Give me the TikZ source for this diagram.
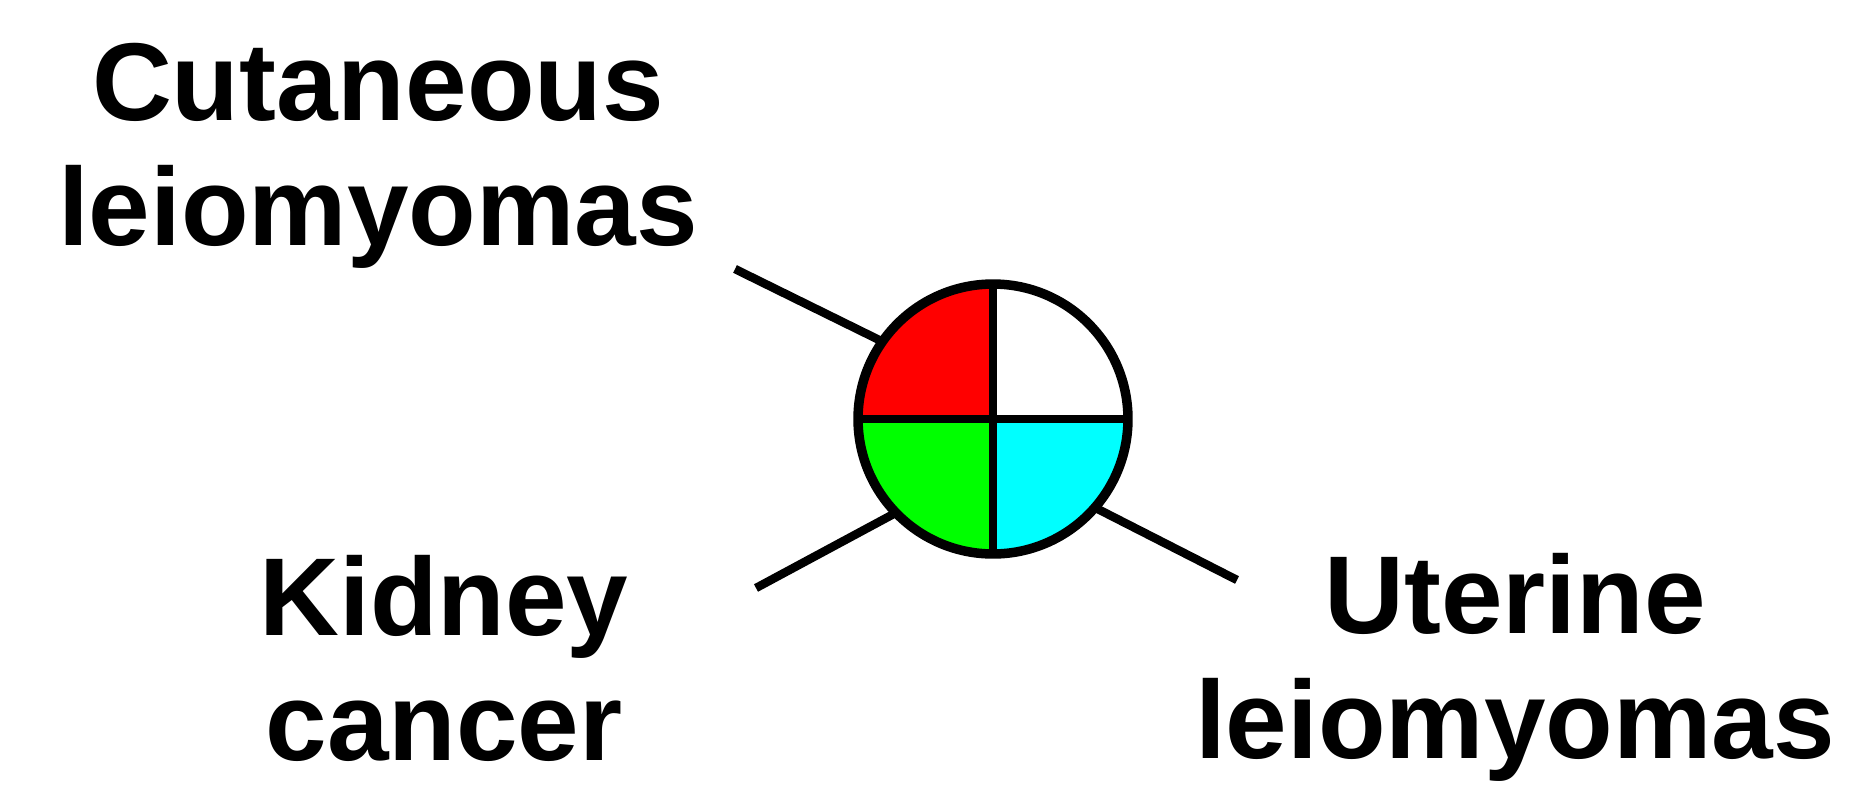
\documentclass[tikz,border=0pt]{standalone}
\usepackage{fontspec}
\setmainfont{Liberation Sans}
\usepackage{xcolor}
\definecolor{qred}{RGB}{255,0,0}
\definecolor{qgreen}{RGB}{0,255,0}
\definecolor{qcyan}{RGB}{0,255,255}
\usetikzlibrary{positioning}

\begin{document}
\begin{tikzpicture}[x=0.02cm, y=-0.02cm,
  lbl/.style={align=center, inner sep=0pt,
              font=\fontsize{63}{71.1}\selectfont\bfseries},
  spoke/.style={line width=0.17cm},
  pie/.style={circle, draw, line width=0.19cm, minimum size=5.4cm,
              inner sep=0pt, outer sep=0pt}
]
\useasboundingbox (0,0) rectangle (1865,805);

% Center node
\node[pie, path picture={
  \fill[qred]   (path picture bounding box.center) rectangle (path picture bounding box.north west);
  \fill[qgreen] (path picture bounding box.center) rectangle (path picture bounding box.south west);
  \fill[qcyan]  (path picture bounding box.center) rectangle (path picture bounding box.south east);
}] (pie) at (993,419) {};
\draw[spoke] (pie.north) -- (pie.south);
\draw[spoke] (pie.west) -- (pie.east);

% Labels
\node[lbl] (cut) at (378,156) {Cutaneous\\leiomyomas};
\node[lbl] (kid) at (444,658) {Kidney\\cancer};
\node[lbl] (ute) at (1515,667) {Uterine\\leiomyomas};

% Spokes
\coordinate (cutend) at (735,269);
\coordinate (kidend) at (756,588);
\coordinate (uteend) at (1237,580);
\draw[spoke] (cutend) -- (pie.145.8);
\draw[spoke] (kidend) -- (pie.224.7);
\draw[spoke] (pie.319.4) -- (uteend);
\end{tikzpicture}
\end{document}
